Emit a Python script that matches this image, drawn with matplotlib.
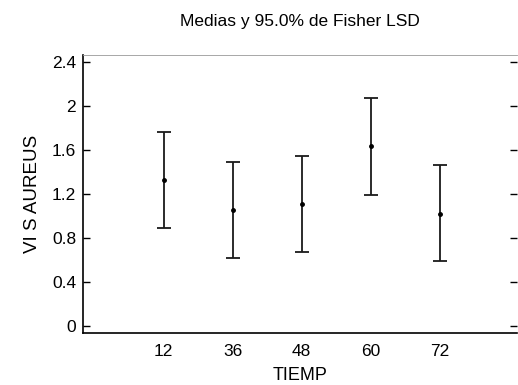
import matplotlib
matplotlib.use("Agg")
import matplotlib.pyplot as plt
import numpy as np

plt.rcParams['font.family'] = ['Liberation Sans', 'DejaVu Sans']

categories = ["12", "36", "48", "60", "72"]
means = [1.325, 1.055, 1.11, 1.635, 1.02]
lower = [0.89, 0.62, 0.67, 1.19, 0.59]
upper = [1.765, 1.49, 1.545, 2.075, 1.46]
yticks = [0, 0.4, 0.8, 1.2, 1.6, 2.0, 2.4]
yticklabels = ["0", "0.4", "0.8", "1.2", "1.6", "2", "2.4"]

fig = plt.figure(figsize=(5.18, 3.85), dpi=100)
W, H = 518, 385
ax = fig.add_axes([83 / W, 1 - 333 / H, (517 - 83) / W, (333 - 55) / H])

x = np.arange(len(categories))
m = np.array(means)
yerr = np.vstack([m - np.array(lower), np.array(upper) - m])
ax.errorbar(x, m, yerr=yerr, fmt='o', color='black', ecolor='#1a1a1a',
            elinewidth=1.3, capsize=5, capthick=1.3, markersize=2.5)

ax.set_xlim(-1.17, 5.12)
ax.set_ylim(-0.064, 2.464)
ax.set_xticks(x)
ax.set_xticklabels(categories, fontsize=12.5)
ax.set_yticks(yticks)
ax.set_yticklabels(yticklabels, fontsize=12.5)
ax.tick_params(axis='x', length=0, pad=8)
ax.tick_params(axis='y', direction='in', length=5, width=1, right=True, pad=5)

ax.spines['right'].set_visible(False)
ax.spines['top'].set_color('#999999')
ax.spines['top'].set_linewidth(0.6)
ax.spines['left'].set_linewidth(1.2)
ax.spines['bottom'].set_linewidth(1.2)

ax.set_title("Medias y 95.0% de Fisher LSD", fontsize=12.5, pad=21)
ax.set_xlabel("TIEMP", fontsize=13, labelpad=6)
ax.set_ylabel("VI S AUREUS", fontsize=13.5, labelpad=8)

fig.savefig("out.png", dpi=100)
